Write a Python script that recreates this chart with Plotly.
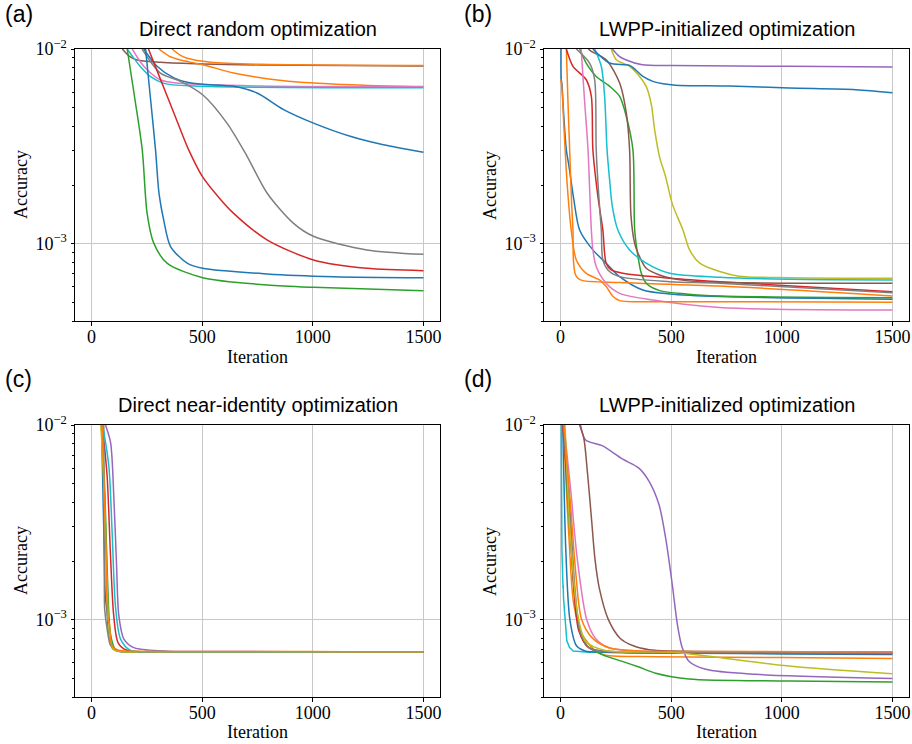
import math
import plotly.graph_objects as go

# ---------------- colours (matplotlib tab10) ----------------
BLUE, ORANGE, GREEN, RED, PURPLE = "#1f77b4", "#ff7f0e", "#2ca02c", "#d62728", "#9467bd"
BROWN, PINK, GRAY, OLIVE, CYAN = "#8c564b", "#e377c2", "#7f7f7f", "#bcbd22", "#17becf"

# ---------------- axis ticks ----------------
X_TICKS = [0, 500, 1000, 1500]
X_TICK_TEXT = ["0", "500", "1000", "1500"]
Y_TICKS = [1e-3, 1e-2]
Y_TICK_TEXT = ["10<sup>−3</sup>", "10<sup>−2</sup>"]
Y_MINOR = [4e-4, 5e-4, 6e-4, 7e-4, 8e-4, 9e-4, 2e-3, 3e-3, 4e-3, 5e-3, 6e-3, 7e-3, 8e-3, 9e-3]
X_RANGE = [-75, 1575]
Y_RANGE = [4e-4, 1e-2]

TITLES = ["Direct random optimization", "LWPP-initialized optimization",
          "Direct near-identity optimization", "LWPP-initialized optimization"]
LABELS = ["(a)", "(b)", "(c)", "(d)"]
X_TITLE = "Iteration"
Y_TITLE = "Accuracy"

# ---------------- panel (a): direct random ----------------
a_brown_x = [139, 170, 206, 312, 500, 764, 1500]
a_brown_y = [1e-2, 9.2e-3, 8.78e-3, 8.55e-3, 8.38e-3, 8.28e-3, 8.18e-3]
a_orange1_x = [364, 400, 432, 538, 764, 1500]
a_orange1_y = [1e-2, 9.3e-3, 8.96e-3, 8.55e-3, 8.34e-3, 8.22e-3]
a_orange2_x = [304, 350, 402, 507, 642, 793, 1003, 1250, 1500]
a_orange2_y = [1e-2, 9.2e-3, 8.78e-3, 8.28e-3, 7.52e-3, 7.04e-3, 6.68e-3, 6.5e-3, 6.42e-3]
a_pink_x = [184, 220, 252, 312, 402, 764, 1500]
a_pink_y = [1e-2, 8.6e-3, 7.8e-3, 6.93e-3, 6.66e-3, 6.45e-3, 6.40e-3]
a_cyan_x = [161, 190, 221, 267, 327, 462, 1500]
a_cyan_y = [1e-2, 9.0e-3, 8.11e-3, 7.21e-3, 6.66e-3, 6.45e-3, 6.33e-3]
a_blue1_x = [236, 296, 372, 432, 502, 642, 748, 868, 1003, 1169, 1319, 1500]
a_blue1_y = [1e-2, 8.15e-3, 7.1e-3, 6.74e-3, 6.58e-3, 6.43e-3, 5.94e-3, 4.88e-3, 4.16e-3, 3.56e-3, 3.22e-3, 2.95e-3]
a_gray_x = [228, 311, 402, 502, 612, 703, 793, 913, 1003, 1244, 1500]
a_gray_y = [1e-2, 7.52e-3, 6.82e-3, 5.82e-3, 4.16e-3, 2.81e-3, 1.82e-3, 1.27e-3, 1.09e-3, 9.28e-4, 8.81e-4]
a_red_x = [257, 311, 372, 439, 502, 580, 642, 793, 1003, 1244, 1500]
a_red_y = [1e-2, 7.0e-3, 4.69e-3, 3.03e-3, 2.2e-3, 1.7e-3, 1.43e-3, 1.045e-3, 8.24e-4, 7.46e-4, 7.26e-4]
a_blue2_x = [244, 266, 289, 305, 326, 357, 432, 502, 793, 1094, 1500]
a_blue2_y = [1e-2, 5.6e-3, 3.03e-3, 1.8e-3, 1.32e-3, 9.65e-4, 7.93e-4, 7.46e-4, 6.98e-4, 6.76e-4, 6.68e-4]
a_green_x = [161, 195, 229, 251, 281, 341, 502, 793, 1003, 1500]
a_green_y = [1e-2, 5.6e-3, 3.03e-3, 1.43e-3, 1.005e-3, 7.93e-4, 6.68e-4, 6.13e-4, 5.96e-4, 5.73e-4]

# ---------------- panel (b): LWPP-initialized ----------------
b_blue1_x = [2, 3, 6, 14, 26, 38, 60, 86, 146, 206, 267, 372, 493, 719, 1500]
b_blue1_y = [1e-2, 7.0e-3, 6.6e-3, 4.6e-3, 3.03e-3, 2.49e-3, 1.68e-3, 1.175e-3, 9.28e-4, 7.93e-4, 6.76e-4, 5.77e-4, 5.51e-4, 5.34e-4, 5.17e-4]
b_orange1_x = [26, 33, 41, 50, 56, 58, 66, 78, 101, 267, 719, 1500]
b_orange1_y = [1e-2, 5.5e-3, 3.03e-3, 1.6e-3, 1.175e-3, 8.2e-4, 7.0e-4, 6.63e-4, 6.45e-4, 6.30e-4, 6.05e-4, 5.38e-4]
b_green_x = [86, 116, 161, 222, 267, 297, 327, 335, 350, 365, 387, 448, 568, 719, 1500]
b_green_y = [1e-2, 8.47e-3, 7.23e-3, 6.43e-3, 5.71e-3, 4.5e-3, 3.03e-3, 1.175e-3, 8.57e-4, 7.03e-4, 6.25e-4, 5.73e-4, 5.51e-4, 5.38e-4, 5.27e-4]
b_red_x = [26, 56, 116, 139, 146, 170, 191, 206, 229, 282, 493, 719, 1500]
b_red_y = [1e-2, 8.15e-3, 6.95e-3, 5.71e-3, 3.03e-3, 1.7e-3, 1.175e-3, 7.93e-4, 7.32e-4, 7.03e-4, 6.63e-4, 6.37e-4, 5.66e-4]
b_purple_x = [234, 264, 294, 369, 505, 1033, 1500]
b_purple_y = [1e-2, 9.2e-3, 8.81e-3, 8.3e-3, 8.22e-3, 8.15e-3, 8.08e-3]
b_brown_x = [125, 139, 206, 267, 297, 312, 318, 335, 350, 387, 447, 568, 719, 1500]
b_brown_y = [1e-2, 9.72e-3, 8.81e-3, 6.68e-3, 4.69e-3, 3.03e-3, 1.4e-3, 1.0e-3, 8.92e-4, 7.46e-4, 6.9e-4, 6.45e-4, 6.32e-4, 6.25e-4]
b_pink_x = [93, 108, 124, 139, 146, 161, 206, 267, 418, 719, 1500]
b_pink_y = [1e-2, 5.5e-3, 3.03e-3, 1.175e-3, 9.28e-4, 7.62e-4, 6.25e-4, 5.55e-4, 5.13e-4, 4.69e-4, 4.56e-4]
b_gray_x = [71, 131, 154, 161, 172, 184, 191, 214, 267, 493, 719, 1500]
b_gray_y = [1e-2, 8.47e-3, 6.95e-3, 3.03e-3, 1.8e-3, 1.175e-3, 8.24e-4, 7.32e-4, 6.76e-4, 6.37e-4, 6.25e-4, 5.59e-4]
b_olive_x = [229, 252, 312, 357, 387, 410, 425, 447, 475, 505, 553, 583, 629, 719, 806, 1033, 1500]
b_olive_y = [1e-2, 8.81e-3, 8.15e-3, 7.23e-3, 6.43e-3, 5.2e-3, 3.85e-3, 2.8e-3, 2.2e-3, 1.6e-3, 1.175e-3, 9.28e-4, 7.93e-4, 7.18e-4, 6.8e-4, 6.68e-4, 6.63e-4]
b_cyan_x = [154, 184, 199, 210, 222, 234, 259, 312, 387, 493, 719, 1033, 1500]
b_cyan_y = [1e-2, 8.15e-3, 5.71e-3, 3.03e-3, 2.1e-3, 1.55e-3, 1.175e-3, 9.28e-4, 7.93e-4, 7.03e-4, 6.71e-4, 6.55e-4, 6.5e-4]
b_blue2_x = [146, 221, 312, 340, 372, 420, 463, 520, 764, 1033, 1334, 1500]
b_blue2_y = [1e-2, 8.47e-3, 8.24e-3, 7.8e-3, 7.23e-3, 6.8e-3, 6.63e-3, 6.52e-3, 6.45e-3, 6.30e-3, 6.18e-3, 5.96e-3]
b_orange2_x = [0, 5, 15, 30, 48, 71, 116, 176, 206, 237, 267, 493, 719, 1500]
b_orange2_y = [7e-3, 6.5e-3, 4e-3, 2e-3, 1.175e-3, 8.24e-4, 7.03e-4, 6.5e-4, 6.01e-4, 5.34e-4, 5.09e-4, 5.03e-4, 5.03e-4, 5.0e-4]

# ---------------- panel (c): direct near-identity ----------------
c_blue_x = [45, 58, 62, 68, 78, 95, 130, 300, 700, 1100, 1500]
c_blue_y = [1e-2, 2e-3, 1.3e-3, 1.15e-3, 8.5e-4, 7.1e-4, 6.85e-4, 6.84e-4, 6.83e-4, 6.83e-4, 6.83e-4]
c_green_x = [44, 60, 72, 85, 105, 140, 250, 700, 1100, 1500]
c_green_y = [1e-2, 4.5e-3, 1.6e-3, 8.5e-4, 7.1e-4, 6.85e-4, 6.83e-4, 6.82e-4, 6.82e-4, 6.82e-4]
c_red_x = [48, 70, 85, 100, 120, 160, 300, 700, 1100, 1500]
c_red_y = [1e-2, 5.5e-3, 2.2e-3, 1.05e-3, 7.6e-4, 6.95e-4, 6.85e-4, 6.84e-4, 6.83e-4, 6.83e-4]
c_purple_x = [63, 86, 101, 113, 123, 146, 191, 327, 700, 1100, 1500]
c_purple_y = [1e-2, 8.09e-3, 4.14e-3, 1.88e-3, 1.05e-3, 7.94e-4, 7.18e-4, 6.9e-4, 6.85e-4, 6.84e-4, 6.83e-4]
c_gray_x = [55, 58, 60, 70, 85, 110, 300, 700, 1100, 1500]
c_gray_y = [1e-2, 1.22e-3, 1.1e-3, 9e-4, 7.4e-4, 6.9e-4, 6.84e-4, 6.83e-4, 6.83e-4, 6.83e-4]
c_olive_x = [42, 58, 70, 82, 100, 140, 300, 700, 1100, 1500]
c_olive_y = [1e-2, 4.2e-3, 1.5e-3, 8.2e-4, 7.0e-4, 6.83e-4, 6.82e-4, 6.82e-4, 6.82e-4, 6.82e-4]
c_cyan_x = [50, 78, 93, 108, 131, 176, 300, 700, 1100, 1500]
c_cyan_y = [1e-2, 6.14e-3, 2.79e-3, 1.17e-3, 7.94e-4, 6.95e-4, 6.85e-4, 6.84e-4, 6.83e-4, 6.83e-4]
c_orange_x = [48, 62, 74, 80, 93, 120, 146, 400, 800, 1150, 1500]
c_orange_y = [1e-2, 3e-3, 1e-3, 9.5e-4, 7.3e-4, 6.95e-4, 6.9e-4, 6.86e-4, 6.85e-4, 6.84e-4, 6.84e-4]

# ---------------- panel (d): LWPP-initialized ----------------
d_blue_x = [10, 24, 42, 72, 110, 203, 600, 1000, 1500]
d_blue_y = [1e-2, 2.21e-3, 1e-3, 7.33e-4, 6.9e-4, 6.8e-4, 6.72e-4, 6.66e-4, 6.62e-4]
d_orange1_x = [12, 38, 60, 98, 158, 203, 430, 1000, 1500]
d_orange1_y = [1e-2, 2.62e-3, 1.19e-3, 8.37e-4, 6.9e-4, 6.56e-4, 6.45e-4, 6.38e-4, 6.31e-4]
d_green_x = [15, 30, 45, 75, 113, 188, 279, 354, 430, 580, 1033, 1500]
d_green_y = [1e-2, 4.5e-3, 2.62e-3, 1.02e-3, 7.45e-4, 6.6e-4, 6.1e-4, 5.7e-4, 5.3e-4, 4.95e-4, 4.83e-4, 4.77e-4]
d_red_x = [10, 38, 60, 83, 128, 279, 700, 1100, 1500]
d_red_y = [1e-2, 3.89e-3, 1.45e-3, 8.7e-4, 7.16e-4, 6.8e-4, 6.75e-4, 6.72e-4, 6.7e-4]
d_purple_x = [90, 113, 188, 279, 354, 400, 445, 475, 505, 528, 550, 580, 656, 882, 1500]
d_purple_y = [1e-2, 8.38e-3, 7.83e-3, 6.69e-3, 6.0e-3, 5.13e-3, 3.89e-3, 2.62e-3, 1.51e-3, 9.43e-4, 7.16e-4, 6.11e-4, 5.55e-4, 5.23e-4, 4.98e-4]
d_brown_x = [86, 105, 121, 140, 155, 175, 216, 270, 329, 400, 505, 1000, 1500]
d_brown_y = [1e-2, 8.55e-3, 5.77e-3, 3.27e-3, 2.07e-3, 1.45e-3, 1.0e-3, 8.0e-4, 7.33e-4, 7.0e-4, 6.89e-4, 6.83e-4, 6.8e-4]
d_pink_x = [15, 45, 75, 118, 158, 219, 354, 700, 1100, 1500]
d_pink_y = [1e-2, 4.73e-3, 2.07e-3, 1.0e-3, 8.0e-4, 7.16e-4, 6.89e-4, 6.84e-4, 6.82e-4, 6.8e-4]
d_gray_x = [12, 42, 66, 90, 135, 290, 700, 1100, 1500]
d_gray_y = [1e-2, 3.7e-3, 1.4e-3, 8.5e-4, 7.1e-4, 6.8e-4, 6.76e-4, 6.74e-4, 6.72e-4]
d_olive_x = [20, 35, 45, 75, 113, 203, 505, 731, 1033, 1500]
d_olive_y = [1e-2, 4e-3, 2.62e-3, 1.1e-3, 7.74e-4, 6.93e-4, 6.79e-4, 6.35e-4, 5.77e-4, 5.26e-4]
d_cyan_x = [3, 4, 5, 6, 11, 12, 13, 23, 24, 28, 40, 57, 128, 1500]
d_cyan_y = [1e-2, 3.5e-3, 2.4e-3, 2.3e-3, 1.45e-3, 1.5e-3, 1.3e-3, 9e-4, 8.6e-4, 7.8e-4, 7.2e-4, 6.9e-4, 6.8e-4, 6.67e-4]
d_orange2_x = [15, 45, 68, 95, 143, 219, 354, 700, 1100, 1500]
d_orange2_y = [1e-2, 3.89e-3, 1.77e-3, 1.0e-3, 8.05e-4, 7.16e-4, 6.89e-4, 6.86e-4, 6.84e-4, 6.83e-4]

PANELS = [
    [(a_brown_x, a_brown_y, BROWN), (a_orange1_x, a_orange1_y, ORANGE), (a_orange2_x, a_orange2_y, ORANGE),
     (a_pink_x, a_pink_y, PINK), (a_cyan_x, a_cyan_y, CYAN), (a_blue1_x, a_blue1_y, BLUE),
     (a_gray_x, a_gray_y, GRAY), (a_red_x, a_red_y, RED), (a_blue2_x, a_blue2_y, BLUE),
     (a_green_x, a_green_y, GREEN)],
    [(b_blue1_x, b_blue1_y, BLUE), (b_orange1_x, b_orange1_y, ORANGE), (b_green_x, b_green_y, GREEN),
     (b_red_x, b_red_y, RED), (b_purple_x, b_purple_y, PURPLE), (b_brown_x, b_brown_y, BROWN),
     (b_pink_x, b_pink_y, PINK), (b_gray_x, b_gray_y, GRAY), (b_olive_x, b_olive_y, OLIVE),
     (b_cyan_x, b_cyan_y, CYAN), (b_blue2_x, b_blue2_y, BLUE), (b_orange2_x, b_orange2_y, ORANGE)],
    [(c_blue_x, c_blue_y, BLUE), (c_green_x, c_green_y, GREEN), (c_red_x, c_red_y, RED),
     (c_purple_x, c_purple_y, PURPLE), (c_gray_x, c_gray_y, GRAY), (c_olive_x, c_olive_y, OLIVE),
     (c_cyan_x, c_cyan_y, CYAN), (c_orange_x, c_orange_y, ORANGE)],
    [(d_cyan_x, d_cyan_y, CYAN), (d_blue_x, d_blue_y, BLUE), (d_orange1_x, d_orange1_y, ORANGE),
     (d_green_x, d_green_y, GREEN), (d_red_x, d_red_y, RED), (d_purple_x, d_purple_y, PURPLE),
     (d_brown_x, d_brown_y, BROWN), (d_pink_x, d_pink_y, PINK), (d_gray_x, d_gray_y, GRAY),
     (d_olive_x, d_olive_y, OLIVE), (d_orange2_x, d_orange2_y, ORANGE)],
]

# ---------------- layout geometry (pixels -> paper fractions) ----------------
W, H = 912, 744
X_DOMAINS = [[75 / W, 440 / W], [544 / W, 909 / W]]
Y_DOMAINS = [[1 - 321 / H, 1 - 49 / H], [1 - 697 / H, 1 - 425 / H]]
LABEL_X = [3, 462]          # left edge of "(a)" / "(b)"
LABEL_Y = [14, 379]         # centre of the panel letters per row
YTITLE_X = [21, 490]        # centre of the "Accuracy" labels
XTITLE_Y = [357, 732]       # centre of the "Iteration" labels

SERIF = "Liberation Serif, Times New Roman, serif"
SANS = "Liberation Sans, Arial, sans-serif"
GRID = "#c8c8c8"

fig = go.Figure()
layout = dict(width=W, height=H, margin=dict(l=0, r=0, t=0, b=0, autoexpand=False),
              paper_bgcolor="white", plot_bgcolor="white", showlegend=False, template="none")
annotations = []

for i, curves in enumerate(PANELS):
    row, col = divmod(i, 2)
    sfx = "" if i == 0 else str(i + 1)
    xa, ya = "x" + sfx, "y" + sfx
    for xs, ys, color in curves:
        shape = "linear" if (i == 3 and color == CYAN) else "spline"
        fig.add_trace(go.Scatter(x=xs, y=ys, mode="lines", xaxis=xa, yaxis=ya,
                                 line=dict(color=color, width=1.5, shape=shape, smoothing=0.8),
                                 hoverinfo="skip"))
    xd, yd = X_DOMAINS[col], Y_DOMAINS[row]
    layout["xaxis" + sfx] = dict(
        domain=xd, anchor=ya, range=X_RANGE, tickmode="array", tickvals=X_TICKS, ticktext=X_TICK_TEXT,
        showgrid=True, gridcolor=GRID, gridwidth=1, zeroline=False, automargin=False,
        showline=True, linecolor="black", linewidth=1, mirror=True,
        ticks="outside", ticklen=3.5, tickcolor="black", ticklabelstandoff=-4,
        tickfont=dict(family=SERIF, size=18, color="black"))
    layout["yaxis" + sfx] = dict(
        domain=yd, anchor=xa, type="log", range=[math.log10(Y_RANGE[0]), math.log10(Y_RANGE[1])],
        tickmode="array", tickvals=Y_TICKS, ticktext=Y_TICK_TEXT,
        showgrid=True, gridcolor=GRID, gridwidth=1, zeroline=False, automargin=False,
        showline=True, linecolor="black", linewidth=1, mirror=True,
        ticks="outside", ticklen=3.5, tickcolor="black",
        minor=dict(tickmode="array", tickvals=Y_MINOR, ticks="outside", ticklen=2,
                   tickcolor="black", showgrid=False),
        tickfont=dict(family=SERIF, size=18, color="black"))
    annotations.append(dict(text=TITLES[i], xref="paper", yref="paper",
                            x=(xd[0] + xd[1]) / 2, y=yd[1] + 20 / H, xanchor="center", yanchor="middle",
                            showarrow=False, font=dict(family=SANS, size=20, color="black")))
    annotations.append(dict(text=LABELS[i], xref="paper", yref="paper",
                            x=LABEL_X[col] / W, y=1 - LABEL_Y[row] / H,
                            xanchor="left", yanchor="middle",
                            showarrow=False, font=dict(family=SANS, size=23, color="black")))
    annotations.append(dict(text=X_TITLE, xref="paper", yref="paper",
                            x=(xd[0] + xd[1]) / 2, y=1 - XTITLE_Y[row] / H,
                            xanchor="center", yanchor="middle",
                            showarrow=False, font=dict(family=SERIF, size=18, color="black")))
    annotations.append(dict(text=Y_TITLE, xref="paper", yref="paper", textangle=-90,
                            x=YTITLE_X[col] / W, y=(yd[0] + yd[1]) / 2,
                            xanchor="center", yanchor="middle",
                            showarrow=False, font=dict(family=SERIF, size=18, color="black")))

layout["annotations"] = annotations
fig.update_layout(**layout)
fig.write_html("out.html")
